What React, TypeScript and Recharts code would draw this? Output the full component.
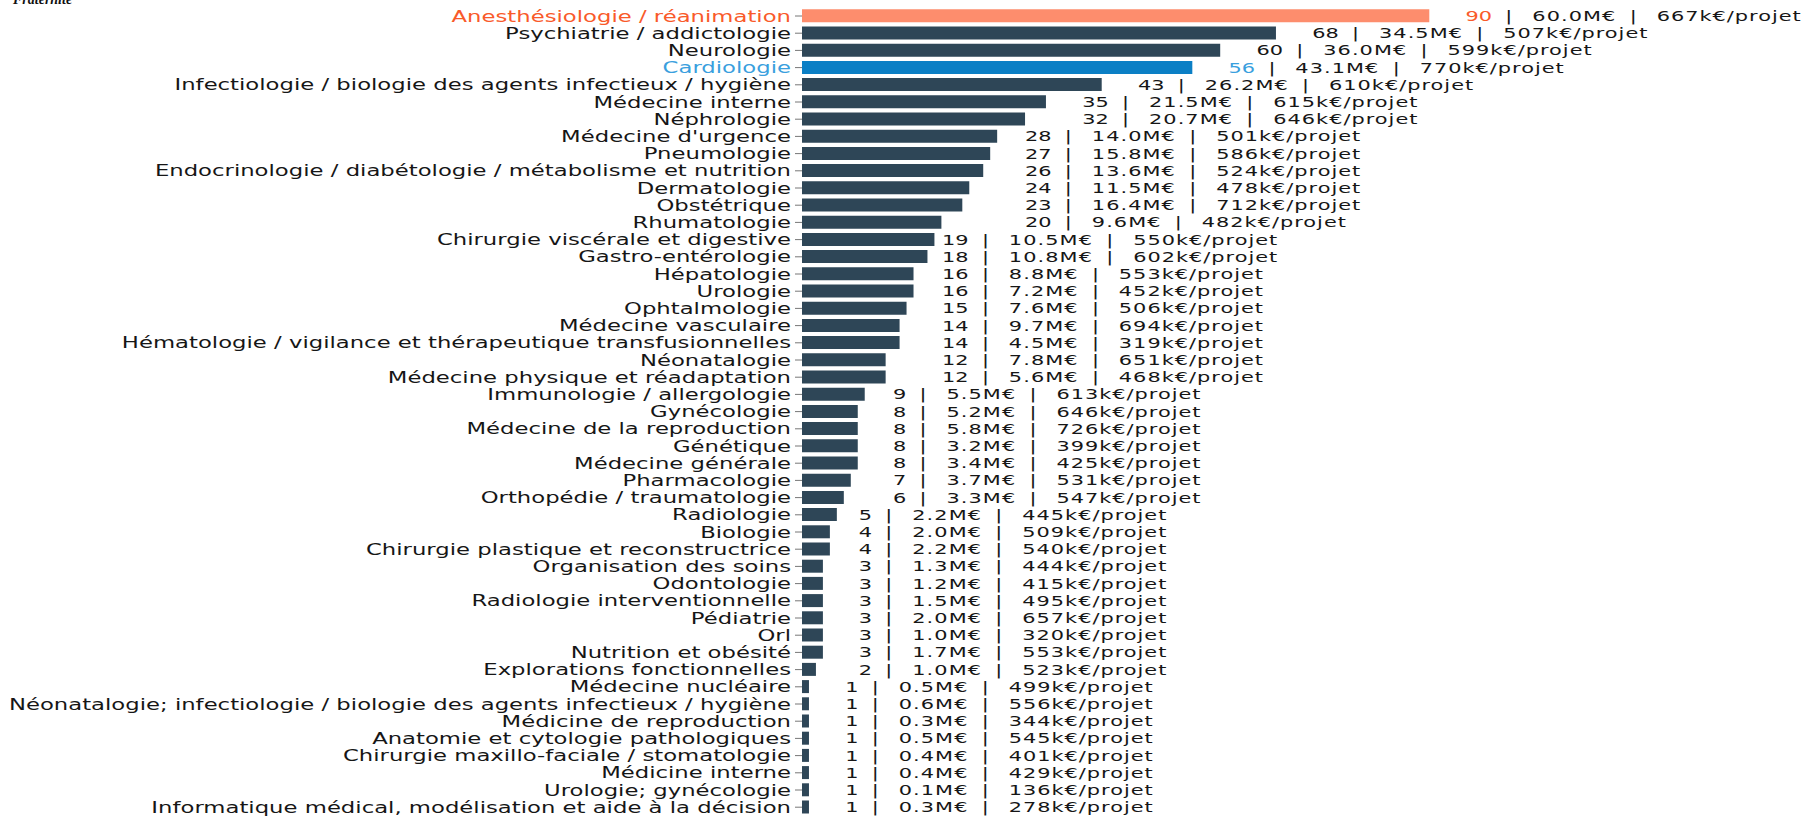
import React from 'react';
import { BarChart, Bar, XAxis, YAxis, Cell, LabelList } from 'recharts';

const categories = [
  'Anesthésiologie / réanimation',
  'Psychiatrie / addictologie',
  'Neurologie',
  'Cardiologie',
  'Infectiologie / biologie des agents infectieux / hygiène',
  'Médecine interne',
  'Néphrologie',
  "Médecine d'urgence",
  'Pneumologie',
  'Endocrinologie / diabétologie / métabolisme et nutrition',
  'Dermatologie',
  'Obstétrique',
  'Rhumatologie',
  'Chirurgie viscérale et digestive',
  'Gastro-entérologie',
  'Hépatologie',
  'Urologie',
  'Ophtalmologie',
  'Médecine vasculaire',
  'Hématologie / vigilance et thérapeutique transfusionnelles',
  'Néonatalogie',
  'Médecine physique et réadaptation',
  'Immunologie / allergologie',
  'Gynécologie',
  'Médecine de la reproduction',
  'Génétique',
  'Médecine générale',
  'Pharmacologie',
  'Orthopédie / traumatologie',
  'Radiologie',
  'Biologie',
  'Chirurgie plastique et reconstructrice',
  'Organisation des soins',
  'Odontologie',
  'Radiologie interventionnelle',
  'Pédiatrie',
  'Orl',
  'Nutrition et obésité',
  'Explorations fonctionnelles',
  'Médecine nucléaire',
  'Néonatalogie; infectiologie / biologie des agents infectieux / hygiène',
  'Médicine de reproduction',
  'Anatomie et cytologie pathologiques',
  'Chirurgie maxillo-faciale / stomatologie',
  'Médicine interne',
  'Urologie; gynécologie',
  'Informatique médical, modélisation et aide à la décision',
];

const projectCounts = [
  90, 68, 60, 56, 43, 35, 32, 28, 27, 26, 24, 23, 20, 19, 18, 16, 16, 15, 14, 14,
  12, 12, 9, 8, 8, 8, 8, 7, 6, 5, 4, 4, 3, 3, 3, 3, 3, 3, 2, 1, 1, 1, 1, 1, 1, 1, 1,
];

const fundingMillions = [
  60.0, 34.5, 36.0, 43.1, 26.2, 21.5, 20.7, 14.0, 15.8, 13.6, 11.5, 16.4, 9.6, 10.5,
  10.8, 8.8, 7.2, 7.6, 9.7, 4.5, 7.8, 5.6, 5.5, 5.2, 5.8, 3.2, 3.4, 3.7, 3.3, 2.2, 2.0,
  2.2, 1.3, 1.2, 1.5, 2.0, 1.0, 1.7, 1.0, 0.5, 0.6, 0.3, 0.5, 0.4, 0.4, 0.1, 0.3,
];

const avgPerProjectK = [
  667, 507, 599, 770, 610, 615, 646, 501, 586, 524, 478, 712, 482, 550, 602, 553, 452,
  506, 694, 319, 651, 468, 613, 646, 726, 399, 425, 531, 547, 445, 509, 540, 444, 415,
  495, 657, 320, 553, 523, 499, 556, 344, 545, 401, 429, 136, 278,
];

const HIGHLIGHT_ORANGE = 'Anesthésiologie / réanimation';
const HIGHLIGHT_BLUE = 'Cardiologie';

const BAR_DEFAULT = '#2e4657';
const BAR_ORANGE = '#fd8d6d';
const BAR_BLUE = '#0b7fc5';
const TEXT_ORANGE = '#f95a2a';
const TEXT_BLUE = '#3a9fde';
const TEXT_DEFAULT = '#161616';

const FONT = "'DejaVu Sans', sans-serif";
const SX_TICK = 1.44;
const SX_LABEL = 1.42;

const rows = categories.map((name, i) => ({
  name,
  count: projectCounts[i],
  funding: fundingMillions[i],
  avg: avgPerProjectK[i],
}));

const rowByName: Record<string, any> = {};
rows.forEach((r) => {
  rowByName[r.name] = r;
});

const barColor = (name: string) =>
  name === HIGHLIGHT_ORANGE ? BAR_ORANGE : name === HIGHLIGHT_BLUE ? BAR_BLUE : BAR_DEFAULT;
const textColor = (name: string) =>
  name === HIGHLIGHT_ORANGE ? TEXT_ORANGE : name === HIGHLIGHT_BLUE ? TEXT_BLUE : TEXT_DEFAULT;

// where the value label starts, in axis units (labels are grouped in steps)
const labelAnchor = (v: number) => {
  if (v >= 36) return v + 5.2;
  if (v >= 32) return 40.2;
  if (v >= 20) return 32;
  if (v >= 12) return 20.1;
  if (v >= 6) return 13.05;
  if (v >= 2) return 8.15;
  return 6.2;
};

const YTick = (props: any) => {
  const { x, y, payload } = props;
  const name = payload.value;
  return (
    <text
      transform={`translate(${x},${y}) scale(${SX_TICK},1)`}
      textAnchor="end"
      dy="0.36em"
      fontFamily={FONT}
      fontSize={15.8}
      fill={textColor(name)}
    >
      {name}
    </text>
  );
};

const ValueLabel = (props: any) => {
  const vb = props.viewBox && props.viewBox.width !== undefined ? props.viewBox : props;
  const x = Number(vb.x);
  const y = Number(vb.y);
  const width = Number(vb.width);
  const height = Number(vb.height);
  const row = rowByName[props.value];
  if (!row) return null;
  const unit = width / row.count;
  const tx = x + labelAnchor(row.count) * unit;
  const ty = y + height / 2;
  const sep = '  |   ';
  return (
    <text
      transform={`translate(${tx},${ty}) scale(${SX_LABEL},1)`}
      textAnchor="start"
      dy="0.36em"
      fontFamily={FONT}
      fontSize={14.7}
      xmlSpace="preserve"
      style={{ whiteSpace: 'pre' }}
      fill={TEXT_DEFAULT}
    >
      <tspan fill={textColor(row.name)}>{row.count}</tspan>
      <tspan>{sep}</tspan>
      <tspan letterSpacing={0.75}>{`${row.funding.toFixed(1)}M€`}</tspan>
      <tspan>{sep}</tspan>
      <tspan letterSpacing={0.7}>{`${row.avg}k€/projet`}</tspan>
    </text>
  );
};

export default function App() {
  return (
    <div style={{ position: 'absolute', left: 0, top: 0, width: 1810, height: 817, background: '#ffffff', overflow: 'hidden' }}>
      <div
        style={{
          position: 'absolute',
          left: 13,
          top: -7,
          fontFamily: "'Liberation Serif', serif",
          fontStyle: 'italic',
          fontWeight: 'bold',
          fontSize: 14,
          lineHeight: '14px',
          color: '#111',
        }}
      >
        Fraternité
      </div>
      <BarChart
        width={1810}
        height={817}
        data={rows}
        layout="vertical"
        margin={{ top: 7.4, right: 311, bottom: 1.2, left: 0 }}
        barCategoryGap="11%"
      >
        <XAxis type="number" domain={[0, 100]} hide />
        <YAxis
          type="category"
          dataKey="name"
          width={802}
          interval={0}
          axisLine={false}
          tickLine={{ stroke: '#777', strokeWidth: 1 }}
          tickSize={7}
          tickMargin={4}
          tick={(p: any) => <YTick {...p} />}
        />
        <Bar dataKey="count" isAnimationActive={false}>
          {rows.map((r) => (
            <Cell key={r.name} fill={barColor(r.name)} />
          ))}
          <LabelList dataKey="name" content={(p: any) => <ValueLabel {...p} />} />
        </Bar>
      </BarChart>
    </div>
  );
}
